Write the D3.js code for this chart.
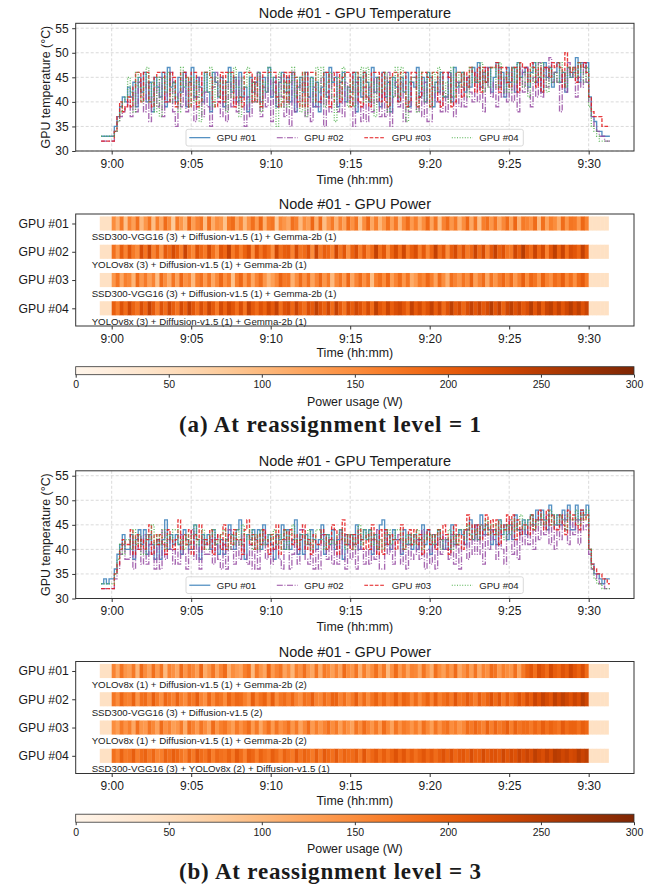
<!DOCTYPE html>
<html>
<head>
<meta charset="utf-8">
<script src="https://cdn.jsdelivr.net/npm/d3@7"></script>
<style>
  body { margin: 0; background: #fff; }
  svg text { font-family: "Liberation Sans", Arial, sans-serif; fill: #1a1a1a; }
  svg text.caption { font-family: "Liberation Serif", "Times New Roman", serif; font-weight: bold; }
</style>
</head>
<body>
<div id="chart"></div>
<script>

// ---- data ----
const tickMinutes = [0, 5, 10, 15, 20, 25, 30];
const tickLabels = ["9:00", "9:05", "9:10", "9:15", "9:20", "9:25", "9:30"];
const tempTicks = [30, 35, 40, 45, 50, 55];
const powerTicks = [0, 50, 100, 150, 200, 250, 300];
const gpuNames = ["GPU #01", "GPU #02", "GPU #03", "GPU #04"];
const gpuColors = ["#377eb8", "#984ea3", "#e41a1c", "#4daf4a"];
const gpuDashes = [null, "6,1.6,1,1.6", "3.7,1.6", "1,1.6"];

// temperature sampled every 10 s from 8:59:20 (minutes relative to 9:00)
const tempStart = -2 / 3;
const tempStep = 1 / 6;
// power cells every 15 s from 8:59:15
const powerStart = -0.75;
const powerStep = 0.25;

// (a) reassignment level 1 - temperatures (°C)
const tempA1 = [33,33,33,33,
  33,35,37,39,41,40, 43,41,44,39,45,42, 46,40,44,38,45,43, 41,46,39,47,43,44, 40,45,42,46,39,44,
  47,41,45,43,40,46, 42,38,46,44,41,45, 39,44,47,42,45,40, 46,41,43,38,45,42, 44,46,40,45,42,47,
  41,45,39,44,46,42, 45,40,46,38,43,45, 42,46,41,45,39,44, 38,43,46,41,47,44, 45,39,44,46,40,43,
  42,46,38,45,41,46, 44,40,47,42,45,39, 46,41,44,38,45,43, 40,45,42,46,39,44, 43,47,41,45,40,46,
  45,39,44,42,46,41, 41,46,40,47,43,44, 46,42,45,43,47,44, 48,43,46,44,47,42, 45,48,43,46,41,47,
  44,47,42,48,45,46, 47,43,46,48,44,45, 42,48,45,47,43,46, 48,44,46,42,47,45, 46,49,44,48,47,48,
  41,37,36,34,34,33,33,33, 33];
const tempA2 = [32,32,32,32,
  32,34,36,37,38,39, 40,37,42,38,44,41, 38,44,36,41,43,39, 45,37,42,40,46,38, 35,42,39,46,38,43,
  44,36,41,45,37,42, 39,35,43,46,40,37, 42,36,44,39,45,38, 45,40,35,41,37,44, 40,46,37,43,39,45,
  36,44,39,45,41,37, 42,35,46,38,44,40, 44,37,41,36,43,39, 39,45,35,42,38,46, 46,38,43,37,44,40,
  41,35,44,39,36,43, 36,43,38,45,40,37, 42,37,46,35,41,44, 39,44,36,41,38,45, 45,38,42,37,44,36,
  36,43,40,45,38,42, 38,46,41,37,44,39, 43,39,45,42,40,46, 40,46,38,47,43,41, 44,39,47,41,45,40,
  46,40,44,38,47,42, 47,42,39,45,41,48, 41,47,43,49,44,46, 44,38,46,42,48,45, 47,41,45,43,48,44,
  40,37,35,34,33,33,32,32, 32];
const tempA3 = [32,32,32,32,
  32,34,37,40,38,39, 41,39,43,46,46,40, 46,46,40,39,45,46, 46,46,40,40,46,45, 39,40,46,46,45,39,
  46,46,39,40,46,46, 46,45,40,39,40,46, 40,46,46,46,39,41, 41,39,46,46,46,40, 45,40,39,46,46,46,
  46,46,41,39,40,46, 40,46,46,45,40,39, 46,39,46,46,46,40, 40,41,46,46,39,40, 46,46,40,45,46,46,
  39,46,46,40,39,46, 41,39,46,46,46,40, 46,40,39,45,46,46, 40,46,46,39,40,46, 46,39,41,46,46,45,
  39,46,46,40,39,46, 46,45,39,40,46,46, 41,46,43,47,46,42, 47,42,47,44,47,47, 47,48,42,47,47,44,
  43,47,47,42,48,47, 47,44,48,47,43,47, 42,47,47,45,48,47, 48,47,43,50,47,46, 47,44,48,47,48,46,
  41,38,37,37,37,35,35,35, 35];
const tempA4 = [33,33,33,33,
  33,34,36,38,40,41, 45,42,38,46,43,40, 43,47,40,44,38,45, 37,45,42,46,40,44, 41,38,47,43,45,39,
  45,40,44,36,42,46, 42,47,39,45,41,44, 44,38,46,41,47,43, 37,45,43,47,40,44, 40,46,38,44,42,47,
  45,42,35,46,39,44, 39,44,47,41,45,38, 46,37,43,45,40,47, 42,47,39,44,46,41, 36,45,41,47,43,39,
  44,39,46,42,47,40, 47,40,44,37,45,42, 43,46,38,45,41,47, 41,47,42,36,44,45, 45,38,46,43,40,46,
  39,46,42,47,44,41, 44,40,47,41,46,43, 46,43,41,47,44,45, 44,48,42,46,43,47, 47,43,48,45,42,46,
  42,47,44,48,45,43, 46,41,47,44,48,45, 48,45,42,47,44,46, 44,48,46,43,47,45, 47,45,48,46,44,47,
  39,35,34,33,32,32,32,32, 32];

// (b) reassignment level 3 - temperatures (°C)
const tempB1 = [33,34,33,34,
  34,36,39,41,43,40, 40,43,38,42,44,41, 44,39,43,41,38,42, 38,42,46,40,43,41, 43,41,39,44,42,40,
  40,45,42,38,43,41, 43,40,44,41,39,42, 39,42,45,43,40,44, 46,41,38,43,42,44, 42,44,40,45,41,43,
  41,38,43,42,45,40, 44,40,42,46,39,43, 39,43,41,44,42,40, 42,45,39,43,41,44, 40,42,44,38,43,41,
  43,41,45,40,42,44, 42,44,39,43,40,45, 46,41,43,40,44,42, 42,39,44,41,43,40, 43,40,42,45,41,44,
  39,43,41,44,42,40, 42,40,45,41,43,44, 43,41,44,46,42,45, 42,47,43,45,44,41, 44,41,46,43,45,42,
  45,42,47,44,43,46, 43,46,47,45,48,46, 48,46,44,49,47,45, 47,45,48,46,49,44, 44,49,46,48,47,49,
  40,37,35,35,34,33,34,34, 34];
const tempB2 = [32,32,32,32,
  32,34,36,39,41,38, 38,42,36,40,43,37, 43,37,41,39,36,42, 36,44,38,42,40,37, 40,37,43,39,36,41,
  44,38,41,36,42,39, 39,42,37,43,38,36, 41,36,44,40,37,42, 38,43,39,37,41,36, 42,36,41,44,38,40,
  37,40,43,38,36,42, 41,36,39,42,37,44, 44,38,37,41,36,40, 36,43,40,38,42,37, 42,37,44,39,36,41,
  38,41,36,43,40,37, 40,37,42,38,44,36, 36,44,39,41,37,42, 43,37,40,36,41,38, 39,42,38,44,36,40,
  37,41,36,42,39,43, 40,38,43,37,41,36, 41,44,38,42,39,45, 39,45,37,43,40,44, 42,38,44,40,37,43,
  46,39,42,38,44,41, 44,41,45,40,46,42, 46,43,47,41,45,40, 45,42,47,44,41,46, 43,46,41,47,44,45,
  39,36,35,34,33,33,32,32, 32];
const tempB3 = [32,32,32,32,
  32,35,37,40,42,41, 41,44,39,43,40,42, 40,42,45,39,43,41, 43,41,39,44,42,40, 42,46,40,43,41,44,
  39,43,42,45,40,42, 41,44,39,42,43,40, 45,40,43,41,44,42, 42,39,44,46,41,43, 40,43,41,44,42,39,
  43,40,45,39,42,44, 42,44,41,43,40,42, 45,40,42,39,43,41, 41,44,43,40,42,45, 44,39,42,46,41,43,
  40,43,41,44,42,40, 43,40,45,42,39,44, 39,44,41,43,42,40, 42,45,40,42,44,41, 44,41,43,39,42,44,
  41,43,40,44,42,45, 43,39,42,45,41,43, 40,44,47,42,45,43, 45,42,44,47,43,46, 43,46,41,45,44,47,
  44,47,42,46,43,45, 45,43,47,44,46,48, 46,44,48,45,47,44, 44,47,45,43,48,46, 47,45,44,48,46,47,
  40,37,36,35,35,34,34,33, 33];
const tempB4 = [33,33,33,33,
  33,35,38,41,39,42, 42,40,44,41,43,39, 39,43,42,45,41,43, 41,44,40,43,42,44, 44,41,42,40,43,41,
  43,45,41,42,44,40, 40,43,44,41,42,43, 44,42,40,43,41,44, 41,45,43,42,44,40, 43,40,44,41,42,43,
  42,44,41,43,40,44, 40,43,45,42,41,43, 43,41,44,40,42,44, 44,42,40,43,41,42, 41,43,44,42,40,43,
  43,40,42,45,41,44, 42,44,41,43,40,42, 40,43,44,41,42,44, 44,42,40,43,41,43, 41,44,42,40,43,42,
  43,41,43,44,40,42, 42,44,40,43,41,44, 44,42,45,43,42,44, 42,45,44,46,43,45, 45,43,46,44,42,45,
  43,46,44,45,47,44, 46,45,47,44,46,45, 47,45,46,48,45,47, 45,47,46,44,47,46, 46,48,45,47,46,48,
  40,36,34,33,33,32,32,32, 32];

// (a) power per 15 s cell (W)
const powerA1 = [45,45,45,
  150,110,170,90, 160,130,180,100, 140,175,95,165, 120,185,150,80, 170,140,105,190,
  130,160,175,95, 180,115,150,140, 90,170,185,125, 160,100,145,180, 135,190,110,165,
  175,85,155,140, 120,180,165,100, 150,130,190,115, 185,95,140,170, 110,160,125,185,
  145,175,90,150, 190,120,165,105, 140,180,130,170, 100,155,185,135, 165,115,150,190,
  125,175,95,160, 185,140,170,110, 150,190,120,175, 95,165,180,140, 175,120,155,185,
  130,190,110,170, 160,145,185,100, 180,125,165,150, 115,185,140,175, 170,135,190,160,
  45,45,45,45,45];
const powerA2 = [45,45,45,
  180,140,200,160, 210,170,150,220, 175,230,160,195, 140,205,185,225, 200,165,235,180,
  155,215,190,170, 225,180,145,210, 190,240,170,200, 165,195,220,150, 215,175,205,185,
  145,230,180,200, 205,160,225,175, 185,215,150,235, 170,200,190,160, 230,175,210,145,
  195,220,165,205, 160,185,240,180, 210,150,195,225, 180,230,170,200, 220,165,205,155,
  190,240,180,210, 150,200,225,175, 215,170,190,235, 185,225,160,205, 240,195,215,175,
  170,230,200,250, 205,185,235,190, 225,160,210,245, 195,235,180,220, 210,190,240,200,
  45,45,45,45,45];
const powerA3 = [45,45,45,
  140,175,120,165, 155,105,185,140, 170,130,160,95, 185,150,115,175, 125,190,145,160,
  100,165,180,135, 175,120,155,190, 145,170,90,165, 190,135,175,120, 160,185,140,105,
  130,155,195,170, 175,110,150,185, 145,180,125,160, 190,140,170,100, 155,175,135,190,
  120,160,185,145, 175,95,165,180, 150,190,130,160, 185,140,175,115, 135,170,155,190,
  165,125,185,150, 110,180,160,140, 175,150,195,130, 160,185,120,175, 140,170,190,155,
  185,135,165,200, 150,190,175,140, 195,160,145,185, 170,200,155,180, 145,185,205,170,
  45,45,45,45,45];
const powerA4 = [45,45,45,
  200,170,215,185, 230,195,175,220, 190,240,205,165, 215,185,230,200, 175,225,195,240,
  210,180,220,190, 235,205,170,225, 195,230,210,180, 220,175,240,205, 185,215,195,230,
  205,240,180,215, 225,190,235,200, 180,220,205,245, 215,195,230,185, 240,205,175,225,
  200,230,215,190, 225,185,245,210, 195,235,200,220, 230,210,185,240, 205,225,195,215,
  240,200,230,185, 215,245,205,225, 190,220,240,210, 235,205,225,250, 210,240,195,230,
  245,215,235,205, 220,250,210,240, 200,235,245,215, 240,210,230,250, 225,245,215,235,
  45,45,45,45,45];

// (b) power per 15 s cell (W)
const powerB1 = [45,45,45,
  160,120,175,140, 130,170,105,185, 150,125,180,135, 175,100,160,145, 120,185,140,170,
  155,130,190,115, 140,175,125,160, 185,110,150,135, 125,165,180,100, 170,140,120,190,
  135,160,175,125, 150,105,165,145, 180,140,120,175, 115,170,155,130, 160,125,185,150,
  140,175,110,165, 125,150,180,135, 170,100,145,185, 135,165,125,160, 155,120,175,140,
  110,180,150,130, 165,140,185,120, 145,170,130,175, 120,160,145,185, 175,135,165,150,
  140,180,125,170, 195,210,180,220, 205,185,225,200, 190,215,200,230, 210,195,220,185,
  45,45,45,45,45];
const powerB2 = [45,45,45,
  175,150,190,165, 160,195,140,180, 185,155,200,170, 145,190,175,160, 195,165,150,185,
  170,200,160,145, 190,155,185,175, 150,195,170,190, 185,165,145,200, 160,180,195,155,
  200,150,175,185, 165,190,160,145, 180,170,200,160, 155,185,165,195, 195,160,180,150,
  170,200,155,185, 150,175,195,165, 190,160,170,200, 165,195,185,155, 185,150,175,195,
  160,200,165,180, 195,170,210,175, 180,205,185,165, 200,175,195,215, 185,210,170,200,
  175,195,215,190, 220,200,235,215, 240,225,210,245, 225,245,230,215, 235,220,250,230,
  45,45,45,45,45];
const powerB3 = [45,45,45,
  150,130,170,145, 165,120,180,140, 135,175,155,125, 185,145,160,130, 140,170,115,180,
  160,135,175,150, 125,185,140,165, 175,150,130,170, 145,165,185,135, 170,120,155,180,
  135,175,145,160, 180,140,170,125, 155,185,135,165, 140,160,180,150, 170,130,165,145,
  125,175,150,185, 160,140,170,135, 185,155,125,175, 145,170,160,140, 165,135,180,155,
  130,175,145,170, 180,150,165,140, 155,185,170,190, 175,160,195,165, 190,170,180,200,
  165,195,175,185, 185,170,190,175, 200,180,195,185, 175,205,185,195, 195,180,200,190,
  45,45,45,45,45];
const powerB4 = [45,45,45,
  180,160,195,170, 175,200,165,185, 195,170,190,160, 165,195,180,200, 190,175,160,195,
  170,205,185,175, 200,165,190,180, 175,195,170,205, 185,160,200,190, 165,195,180,170,
  200,185,165,195, 180,170,205,175, 195,185,170,200, 170,205,190,180, 205,175,195,185,
  185,200,170,210, 175,190,205,180, 200,180,195,215, 190,210,185,200, 180,195,210,190,
  205,185,200,215, 195,215,190,205, 210,195,220,200, 200,225,205,215, 215,205,230,210,
  225,215,235,220, 235,220,245,230, 220,240,225,250, 245,230,240,225, 230,250,235,245,
  45,45,45,45,45];

const workloadsA = [
  "SSD300-VGG16 (3) + Diffusion-v1.5 (1) + Gemma-2b (1)",
  "YOLOv8x (3) + Diffusion-v1.5 (1) + Gemma-2b (1)",
  "SSD300-VGG16 (3) + Diffusion-v1.5 (1) + Gemma-2b (1)",
  "YOLOv8x (3) + Diffusion-v1.5 (1) + Gemma-2b (1)"
];
const workloadsB = [
  "YOLOv8x (1) + Diffusion-v1.5 (1) + Gemma-2b (2)",
  "SSD300-VGG16 (3) + Diffusion-v1.5 (2)",
  "YOLOv8x (1) + Diffusion-v1.5 (1) + Gemma-2b (2)",
  "SSD300-VGG16 (3) + YOLOv8x (2) + Diffusion-v1.5 (1)"
];
const captionA = "(a) At reassignment level = 1";
const captionB = "(b) At reassignment level = 3";

// ---- drawing ----
const W = 655, H = 888;
const svg = d3.select("#chart").append("svg").attr("width", W).attr("height", H);

const left = 75.7, right = 634;
const x = d3.scaleLinear().domain([-2.264, 32.85]).range([left, right]);
const tempTimes = d3.range(tempA1.length).map(i => tempStart + i * tempStep);
const powerTimes = d3.range(powerA1.length + 1).map(i => powerStart + i * powerStep);

const gradient = svg.append("defs").append("linearGradient")
    .attr("id", "orangesGrad").attr("x1", "0%").attr("x2", "100%");
d3.range(0, 1.0001, 0.02).forEach(t => {
  gradient.append("stop").attr("offset", (t * 100) + "%").attr("stop-color", d3.interpolateOranges(t));
});

const frameColor = "#333";

function styleAxis(ax, size) {
  ax.select(".domain").remove();
  ax.selectAll("line").attr("stroke", frameColor);
  ax.selectAll("text").attr("font-size", size).attr("font-family", null).attr("fill", "#1a1a1a");
}

function xAxisAt(g, yPos) {
  const ax = g.append("g")
      .attr("transform", "translate(0," + yPos + ")")
      .call(d3.axisBottom(x).tickValues(tickMinutes)
          .tickFormat((d, i) => tickLabels[i]).tickSize(3.5).tickPadding(4.5));
  styleAxis(ax, 12);
}

function drawPanel(dy, temps, powers, workloads, caption) {
  const g = svg.append("g").attr("transform", "translate(0," + dy + ")");

  // ---------- temperature ----------
  const top = 23.3, bottom = 151;
  const yT = d3.scaleLinear().domain([30, 56]).range([bottom, top]);

  const grid = g.append("g").attr("stroke", "#d0d0d0").attr("stroke-width", 0.8)
      .attr("stroke-dasharray", "3,2");
  grid.selectAll(".gx").data(tickMinutes).join("line")
      .attr("x1", d => x(d)).attr("x2", d => x(d)).attr("y1", top).attr("y2", bottom);
  grid.selectAll(".gy").data(tempTicks).join("line")
      .attr("x1", left).attr("x2", right).attr("y1", d => yT(d)).attr("y2", d => yT(d));

  const line = d3.line()
      .x((d, i) => x(tempTimes[i]))
      .y(d => yT(d))
      .curve(d3.curveStepAfter);

  temps.forEach((series, k) => {
    g.append("path").datum(series)
        .attr("d", line)
        .attr("fill", "none")
        .attr("stroke", gpuColors[k])
        .attr("stroke-width", 1.35)
        .attr("stroke-opacity", 0.85)
        .attr("stroke-dasharray", gpuDashes[k]);
  });

  g.append("rect").attr("x", left).attr("y", top)
      .attr("width", right - left).attr("height", bottom - top)
      .attr("fill", "none").attr("stroke", frameColor).attr("stroke-width", 1);

  xAxisAt(g, bottom);

  const yAx = g.append("g").attr("transform", "translate(" + left + ",0)")
      .call(d3.axisLeft(yT).tickValues(tempTicks).tickSize(3.5).tickPadding(3.5));
  styleAxis(yAx, 12);

  g.append("text").attr("x", (left + right) / 2).attr("y", 18.3)
      .attr("text-anchor", "middle").attr("font-size", 14.5)
      .text("Node #01 - GPU Temperature");
  g.append("text").attr("x", (left + right) / 2).attr("y", 183.5)
      .attr("text-anchor", "middle").attr("font-size", 12.4)
      .text("Time (hh:mm)");
  g.append("text")
      .attr("transform", "translate(49.5," + ((top + bottom) / 2) + ") rotate(-90)")
      .attr("text-anchor", "middle").attr("font-size", 12.4)
      .text("GPU temperature (°C)");

  // legend
  const lg = g.append("g");
  lg.append("rect").attr("x", 186).attr("y", 129.3).attr("width", 337.3).attr("height", 16.7)
      .attr("rx", 2).attr("fill", "#fff").attr("fill-opacity", 0.85)
      .attr("stroke", "#cfcfcf").attr("stroke-width", 0.8);
  gpuNames.forEach((name, k) => {
    const x0 = 189.3 + k * 87.5;
    lg.append("line").attr("x1", x0).attr("x2", x0 + 21).attr("y1", 137.7).attr("y2", 137.7)
        .attr("stroke", gpuColors[k]).attr("stroke-width", 1.1)
        .attr("stroke-dasharray", gpuDashes[k]);
    lg.append("text").attr("x", x0 + 27.4).attr("y", 141.1)
        .attr("font-size", 9.6).text(name);
  });

  // ---------- power ----------
  const pTop = 214, pBottom = 326;
  const yP = d3.scaleLinear().domain([-0.336, 3.626]).range([pTop, pBottom]);
  const color = v => d3.interpolateOranges(v / 300);

  powers.forEach((series, k) => {
    g.append("g").selectAll("rect").data(series).join("rect")
        .attr("x", (d, i) => x(powerTimes[i]))
        .attr("width", (d, i) => x(powerTimes[i + 1]) - x(powerTimes[i]) + 0.3)
        .attr("y", yP(k - 0.25))
        .attr("height", yP(k + 0.25) - yP(k - 0.25))
        .attr("fill", d => color(d));
    g.append("text").attr("x", x(-1.26)).attr("y", yP(k + 0.47) + 3.4)
        .attr("font-size", 9.7).text(workloads[k]);
  });

  g.append("rect").attr("x", left).attr("y", pTop)
      .attr("width", right - left).attr("height", pBottom - pTop)
      .attr("fill", "none").attr("stroke", frameColor).attr("stroke-width", 1);

  xAxisAt(g, pBottom);

  const gy = g.append("g").attr("transform", "translate(" + left + ",0)")
      .call(d3.axisLeft(yP).tickValues([0, 1, 2, 3]).tickFormat((d, i) => gpuNames[i])
          .tickSize(3.5).tickPadding(3.5));
  styleAxis(gy, 12.2);

  g.append("text").attr("x", (left + right) / 2).attr("y", 209)
      .attr("text-anchor", "middle").attr("font-size", 14.5)
      .text("Node #01 - GPU Power");
  g.append("text").attr("x", (left + right) / 2).attr("y", 357.2)
      .attr("text-anchor", "middle").attr("font-size", 12.4)
      .text("Time (hh:mm)");

  // ---------- colorbar ----------
  const cTop = 366.7, cH = 8;
  const xc = d3.scaleLinear().domain([0, 300]).range([left, right]);
  g.append("rect").attr("x", left).attr("y", cTop).attr("width", right - left).attr("height", cH)
      .attr("fill", "url(#orangesGrad)").attr("stroke", frameColor).attr("stroke-width", 0.8);
  const cAx = g.append("g").attr("transform", "translate(0," + (cTop + cH) + ")")
      .call(d3.axisBottom(xc).tickValues(powerTicks).tickSize(3).tickPadding(3));
  styleAxis(cAx, 10.5);
  g.append("text").attr("x", (left + right) / 2).attr("y", 405.5)
      .attr("text-anchor", "middle").attr("font-size", 12.4)
      .text("Power usage (W)");

  g.append("text").attr("class", "caption")
      .attr("x", 179).attr("y", 431.5)
      .attr("font-size", 23)
      .attr("textLength", 302).attr("lengthAdjust", "spacing")
      .text(caption);
}

drawPanel(0, [tempA1, tempA2, tempA3, tempA4],
    [powerA1, powerA2, powerA3, powerA4], workloadsA, captionA);
drawPanel(447.5, [tempB1, tempB2, tempB3, tempB4],
    [powerB1, powerB2, powerB3, powerB4], workloadsB, captionB);

</script>
</body>
</html>
